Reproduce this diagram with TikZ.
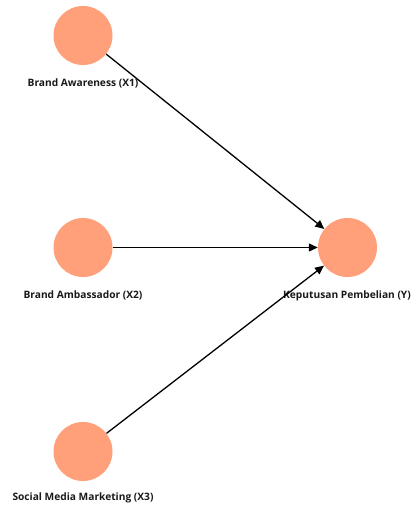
\documentclass[tikz,border=0pt]{standalone}
\usepackage{fontspec}
\setmainfont{Open Sans}
\usetikzlibrary{arrows.meta}
\definecolor{nodefill}{HTML}{FFA07A}
\tikzset{
  var/.style={circle, fill=nodefill, minimum size=59pt, inner sep=0pt},
  lbl/.style={font=\bfseries\fontsize{10.2}{12}\selectfont, text=black!90, inner sep=0pt},
  path/.style={-{Stealth[length=9pt,width=8pt,inset=0pt]}, line width=1.3pt, black}
}
\begin{document}
\begin{tikzpicture}[x=1pt,y=-1pt]
  \useasboundingbox (0,0) rectangle (414,506);
  \node[var] (x1) at (83,35.5) {};
  \node[var] (x2) at (83,247.5) {};
  \node[var] (x3) at (83,451.5) {};
  \node[var] (y) at (347.5,247.5) {};
  \node[lbl] (lx1) at (83,83) {Brand Awareness (X1)};
  \node[lbl] (lx2) at (83,295) {Brand Ambassador (X2)};
  \node[lbl] (lx3) at (83,498) {Social Media Marketing (X3)};
  \node[lbl] (ly) at (347,296) {Keputusan Pembelian (Y)};
  \draw[path] (x1) -- (y);
  \draw[path] (x2) -- (y);
  \draw[path] (x3) -- (y);
\end{tikzpicture}
\end{document}
